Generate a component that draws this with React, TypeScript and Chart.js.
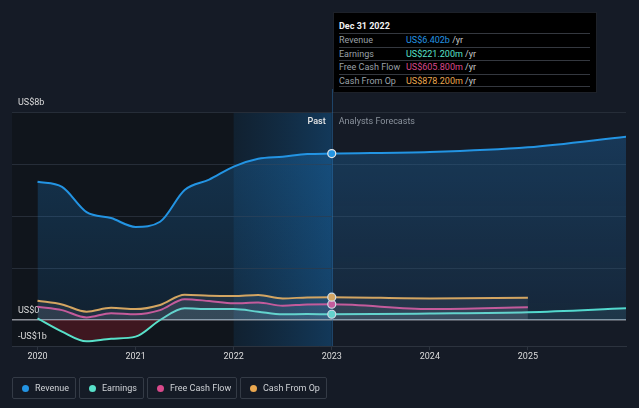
import React, { useEffect, useRef } from 'react';
import { Chart, registerables } from 'chart.js';

Chart.register(...registerables);

const FONT = 'Roboto, "Open Sans", Arial, sans-serif';

// ---- data (US$ billions) ----
const pastYears = [2020, 2020.25, 2020.5, 2020.75, 2021, 2021.25, 2021.5, 2021.75, 2022, 2022.25, 2022.5, 2022.75, 2023];
const revenuePast = [5.32, 5.12, 4.15, 3.92, 3.58, 3.78, 5.0, 5.4, 5.9, 6.2, 6.28, 6.38, 6.402];
const earningsPast = [0.06, -0.45, -0.82, -0.72, -0.64, 0.0, 0.45, 0.42, 0.42, 0.32, 0.22, 0.23, 0.2212];
const fcfPast = [0.51, 0.38, 0.1, 0.26, 0.22, 0.38, 0.8, 0.73, 0.64, 0.67, 0.55, 0.6, 0.6058];
const cfoPast = [0.74, 0.6, 0.32, 0.47, 0.42, 0.58, 0.97, 0.93, 0.92, 0.96, 0.83, 0.87, 0.8782];

const revenueForecastYears = [2024, 2025, 2026];
const revenueForecast = [6.46, 6.64, 7.05];
const earningsForecastYears = [2024, 2025, 2026];
const earningsForecast = [0.25, 0.3, 0.45];
const cashForecastYears = [2024, 2025];
const fcfForecast = [0.42, 0.49];
const cfoForecast = [0.83, 0.86];

const xTickYears = [2020, 2021, 2022, 2023, 2024, 2025];
const yTickValues = [-1, 0, 2, 4, 6, 8];
const yTickLabels: Record<string, string> = { '8': 'US$8b', '0': 'US$0', '-1': '-US$1b' };

const seriesNames = ['Revenue', 'Earnings', 'Free Cash Flow', 'Cash From Op'];
const seriesColors = ['#2394e3', '#58e0c9', '#d9498b', '#eaa74f'];
const tooltipDate = 'Dec 31 2022';
const tooltipValues = ['US$6.402b', 'US$221.200m', 'US$605.800m', 'US$878.200m'];

const PAST_START = 2022;
const SPLIT_YEAR = 2023;

function toPoints(xs: number[], ys: number[]) {
  return xs.map((x, i) => ({ x, y: ys[i] }));
}

const bgPlugin = {
  id: 'bgPlugin',
  beforeDraw(chart: any) {
    const { ctx, chartArea, scales } = chart;
    const x = scales.x;
    const l = chartArea.left;
    const x22 = x.getPixelForValue(PAST_START);
    const x23 = x.getPixelForValue(SPLIT_YEAR);
    ctx.save();
    ctx.fillStyle = '#10151c';
    ctx.fillRect(l, chartArea.top, x23 - l, chartArea.bottom - chartArea.top);
    const g = ctx.createLinearGradient(x22, 0, x23, 0);
    g.addColorStop(0, 'rgba(20,80,130,0.2)');
    g.addColorStop(1, 'rgba(22,100,165,0.45)');
    ctx.fillStyle = g;
    ctx.fillRect(x22, chartArea.top, x23 - x22, chartArea.bottom - chartArea.top);
    ctx.restore();
  },
  beforeDatasetsDraw(chart: any) {
    const { ctx, chartArea, scales } = chart;
    const x23 = Math.round(scales.x.getPixelForValue(SPLIT_YEAR)) + 0.5;
    ctx.save();
    ctx.strokeStyle = 'rgba(40,110,170,0.5)';
    ctx.lineWidth = 1;
    ctx.beginPath();
    ctx.moveTo(x23, 89);
    ctx.lineTo(x23, chartArea.bottom);
    ctx.stroke();
    ctx.restore();
  },
  afterDraw(chart: any) {
    const { ctx, scales } = chart;
    const x23 = scales.x.getPixelForValue(SPLIT_YEAR);
    ctx.save();
    ctx.textBaseline = 'middle';
    ctx.font = `500 9px ${FONT}`;
    ctx.fillStyle = '#e8e8e8';
    ctx.textAlign = 'right';
    ctx.fillText('Past', x23 - 6, 122);
    ctx.font = `9px ${FONT}`;
    ctx.fillStyle = '#8a929c';
    ctx.textAlign = 'left';
    ctx.fillText('Analysts Forecasts', x23 + 7, 122);
    ctx.restore();
  },
};

function revenueFill(ctx: any) {
  const chart = ctx.chart;
  const area = chart.chartArea;
  if (!area) return 'rgba(33,150,243,0.18)';
  const g = chart.ctx.createLinearGradient(0, area.top, 0, area.bottom);
  g.addColorStop(0, 'rgba(33,150,243,0.26)');
  g.addColorStop(1, 'rgba(33,150,243,0.08)');
  return g;
}

const legendBoxes = [
  { left: 12, width: 64 },
  { left: 79, width: 65 },
  { left: 147, width: 90 },
  { left: 240, width: 87 },
];

export default function App() {
  const ref = useRef<HTMLCanvasElement | null>(null);

  useEffect(() => {
    if (!ref.current) return;
    const pr = (c: any) => (c.raw && c.raw.x === SPLIT_YEAR ? 4 : 0);
    const common = {
      borderWidth: 2,
      cubicInterpolationMode: 'monotone' as const,
      pointRadius: pr,
      pointHoverRadius: pr,
      pointBorderColor: '#e6e6e6',
      pointBorderWidth: 1.2,
    };
    const chart = new Chart(ref.current, {
      type: 'line',
      data: {
        datasets: [
          {
            ...common,
            label: seriesNames[0],
            data: [...toPoints(pastYears, revenuePast), ...toPoints(revenueForecastYears, revenueForecast)],
            borderColor: seriesColors[0],
            pointBackgroundColor: seriesColors[0],
            backgroundColor: revenueFill,
            fill: 'origin',
          },
          {
            ...common,
            label: seriesNames[3],
            data: [...toPoints(pastYears, cfoPast), ...toPoints(cashForecastYears, cfoForecast)],
            borderColor: seriesColors[3],
            pointBackgroundColor: seriesColors[3],
            backgroundColor: 'rgba(200,200,210,0.09)',
            fill: 'origin',
          },
          {
            ...common,
            label: seriesNames[2],
            data: [...toPoints(pastYears, fcfPast), ...toPoints(cashForecastYears, fcfForecast)],
            borderColor: seriesColors[2],
            pointBackgroundColor: seriesColors[2],
            backgroundColor: 'rgba(200,190,205,0.09)',
            fill: 'origin',
          },
          {
            ...common,
            label: seriesNames[1],
            data: [...toPoints(pastYears, earningsPast), ...toPoints(earningsForecastYears, earningsForecast)],
            borderColor: seriesColors[1],
            pointBackgroundColor: seriesColors[1],
            fill: { target: 'origin', above: 'rgba(120,200,200,0.1)', below: 'rgba(150,30,40,0.35)' },
          },
        ],
      },
      options: {
        animation: false,
        responsive: false,
        events: [],
        layout: { padding: { top: 112, right: 13, left: 0, bottom: 0 } },
        plugins: { legend: { display: false }, tooltip: { enabled: false } },
        scales: {
          x: {
            type: 'linear',
            min: 2019.74,
            max: 2026,
            afterFit: (s: any) => { s.height = 62; },
            afterBuildTicks: (s: any) => { s.ticks = xTickYears.map((v) => ({ value: v })); },
            grid: { drawOnChartArea: false, drawTicks: true, tickLength: 4, color: '#2c333e' },
            border: { display: true, color: '#2c333e' },
            ticks: {
              color: '#dcdcdc',
              font: { size: 9, family: FONT },
              padding: 1,
              maxRotation: 0,
              autoSkip: false,
              callback: (v: any) => String(v),
            },
          },
          y: {
            min: -1,
            max: 8,
            afterFit: (s: any) => { s.width = 12; },
            afterBuildTicks: (s: any) => { s.ticks = yTickValues.map((v) => ({ value: v })); },
            grid: {
              drawTicks: false,
              color: (c: any) => (c.tick && c.tick.value === 0 ? '#8d9199' : '#262d38'),
              lineWidth: (c: any) => (c.tick && c.tick.value === 0 ? 1.5 : 1),
            },
            border: { display: false },
            ticks: {
              mirror: true,
              padding: 6,
              labelOffset: -9,
              color: '#dcdcdc',
              font: { size: 9, family: FONT },
              callback: (v: any) => yTickLabels[String(v)] ?? '',
            },
          },
        },
      },
      plugins: [bgPlugin],
    } as any);
    return () => chart.destroy();
  }, []);

  return (
    <div style={{ position: 'fixed', left: 0, top: 0, width: 639, height: 408, background: '#151b26', fontFamily: FONT, overflow: 'hidden' }}>
      <canvas ref={ref} width={639} height={408} style={{ position: 'absolute', left: 0, top: 0, width: 639, height: 408 }} />
      <div style={{ position: 'absolute', left: 333, top: 12, width: 264, height: 81, background: '#000', border: '1px solid #1d2129', boxSizing: 'border-box' }}>
        <div style={{ position: 'absolute', left: 5, top: 7, fontSize: 9, fontWeight: 700, color: '#f2f2f2', lineHeight: '12px' }}>{tooltipDate}</div>
        {seriesNames.map((n, i) => (
          <div key={n} style={{ position: 'absolute', left: 5, width: 251, top: 20 + i * 13.5, height: 13.5, borderTop: '1px solid #34383f', borderBottom: i === 3 ? '1px solid #34383f' : undefined, boxSizing: 'border-box', fontSize: 9, lineHeight: '12px' }}>
            <span style={{ position: 'absolute', left: 0, top: 0, color: '#9aa0a8' }}>{n}</span>
            <span style={{ position: 'absolute', left: 67, top: 0, whiteSpace: 'nowrap' }}>
              <span style={{ color: seriesColors[i] }}>{tooltipValues[i]}</span>
              <span style={{ color: '#c8c8c8' }}> /yr</span>
            </span>
          </div>
        ))}
      </div>
      {legendBoxes.map((b, i) => (
        <div key={i} style={{ position: 'absolute', left: b.left, top: 377, width: b.width, height: 22, boxSizing: 'border-box', border: '1px solid #343b46', borderRadius: 2, display: 'flex', alignItems: 'center', paddingLeft: 9, fontSize: 9, color: '#cfd2d6', whiteSpace: 'nowrap' }}>
          <span style={{ width: 7, height: 7, borderRadius: '50%', background: seriesColors[i], display: 'inline-block', marginRight: 6, flex: 'none' }} />
          <span>{seriesNames[i]}</span>
        </div>
      ))}
    </div>
  );
}
